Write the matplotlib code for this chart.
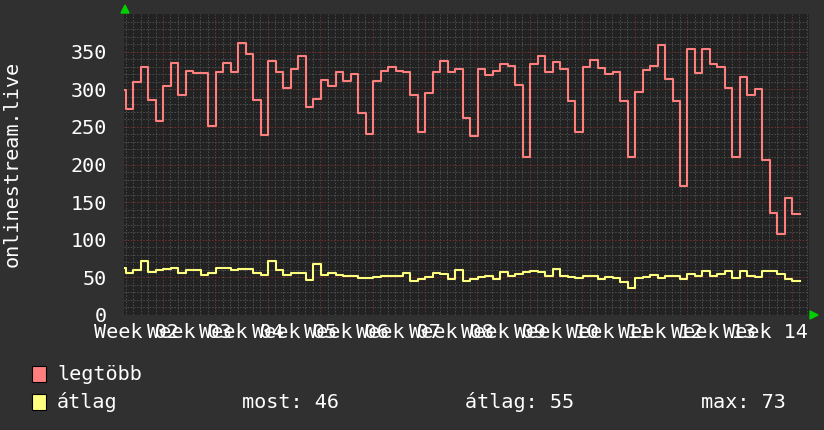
import matplotlib as mpl
mpl.use('Agg')
import matplotlib.pyplot as plt
from matplotlib.patches import Rectangle, Polygon
import numpy as np

# daily values, first one is the partial day at the left edge
legtobb = [299, 274, 309, 330, 286, 258, 304, 335, 293, 324, 321, 321, 251, 323, 335, 323, 362, 347, 286, 239, 337, 323,
           302, 327, 344, 277, 287, 312, 304, 323, 311, 320, 269, 241, 311, 324, 330, 324, 323, 292, 243, 295, 323, 338,
           323, 327, 262, 238, 327, 319, 324, 333, 331, 305, 210, 333, 344, 323,
           336, 327, 284, 243, 330, 339, 328, 320, 323, 284, 210, 297, 325, 331, 359, 313, 284, 171, 353, 321, 353, 334,
           330, 302, 210, 316, 293, 300, 206, 135, 108, 156, 134]
atlag = [62.5, 56, 59.4, 72, 57.2, 60.3, 61.2, 62.5, 56, 59.4, 59.4, 53.2, 56, 62, 62, 60.3, 60.7, 60.7, 56, 53.2, 72, 60.3,
         53.6, 56.3, 56, 47, 67.4, 53.6, 56, 53.2, 52.3, 52.3, 49.6, 49.6, 50.6, 51.4, 51.4, 51.4, 56.3, 44.8, 47.9, 50.6,
         56, 55, 47.9, 59.4, 45.2, 47.9, 50, 51.4, 48.3, 56.8, 51.4, 55, 57.6, 58.5, 57.2, 52.3,
         61.2, 51.5, 50.6, 49.7, 51.5, 51.5, 48.4, 50.6, 49.7, 43.9, 35.9, 49.7, 50.6, 53.2, 49.7, 51.5, 51.5, 48.4,
         55, 52.3, 58.6, 52.3, 55, 58.6, 49.7, 58.6, 51.5, 50.6, 58.6, 58.6, 54.1, 47.9, 45.3]
week_labels = ['Week %02d' % w for w in range(2, 15)]
legend_names = ['legtöbb', 'átlag']
stats = ['most: 46', 'átlag: 55', 'max: 73']

W, H = 824, 430
BG = '#303030'
PLOT_BG = '#222222'
FONT = 'DejaVu Sans Mono'
FS = 14.5

def fx(px):
    return px / W

def fy(py):
    return 1 - py / H

fig = plt.figure(figsize=(W / 100, H / 100), dpi=100, facecolor=BG)
ax = fig.add_axes([fx(124), fy(315), fx(809) - fx(124), fy(14) - fy(315)])
ax.set_facecolor(PLOT_BG)

t0 = -0.733
t = t0 + np.arange(len(legtobb) + 1)
ax.step(t, legtobb + legtobb[-1:], where='post', color='#ff7f7f', lw=1.5, zorder=3)
ax.step(t, atlag + atlag[-1:], where='post', color='#ffff7f', lw=1.5, zorder=3)

ax.set_xlim(0, 91.5)
ax.set_ylim(0, 400)

first_week = 5.21
ax.set_xticks([first_week + 7 * k for k in range(13)])
ax.set_xticks([first_week % 1 + k for k in range(92)], minor=True)
ax.set_yticks(range(0, 400, 50))
ax.set_yticks(range(0, 400, 10), minor=True)
ax.grid(True, which='minor', color='#4c4c4c', lw=0.75, ls=(0, (1.5, 1.5)), zorder=1)
ax.grid(True, which='major', color='#6e2f2f', lw=0.75, ls=(0, (1.5, 1.5)), zorder=2)
ax.tick_params(which='both', length=0, colors='white')
ax.set_xticklabels([])
ax.tick_params(axis='y', labelsize=FS, pad=12)
for lab in ax.get_yticklabels():
    lab.set_fontfamily(FONT)
for s in ax.spines.values():
    s.set_visible(False)

# week labels sit half a week before each week line
for k, lab in enumerate(week_labels):
    ax.text(first_week - 3.5 + 7 * k, -10, lab, ha='center', va='top', color='white',
            fontsize=FS, family=FONT, clip_on=False)

fig.text(fx(12), fy(164), 'onlinestream.live', rotation=90, ha='center', va='center',
         color='white', fontsize=FS, family=FONT)

# axis arrows
fig.patches.append(Polygon([(fx(121), fy(13)), (fx(129), fy(13)), (fx(125), fy(5))], closed=True,
                           color='#00d000', transform=fig.transFigure))
fig.patches.append(Polygon([(fx(810), fy(311)), (fx(810), fy(319)), (fx(818), fy(315))], closed=True,
                           color='#00d000', transform=fig.transFigure))

# legend
colors = ['#ff7f7f', '#ffff7f']
rows = [374, 402]
for name, c, ry in zip(legend_names, colors, rows):
    fig.patches.append(Rectangle((fx(32), fy(ry + 8)), fx(14), fy(ry - 8) - fy(ry + 8),
                                 facecolor=c, edgecolor='black', lw=0.8, transform=fig.transFigure))
    fig.text(fx(57), fy(ry), name, ha='left', va='center', color='white', fontsize=FS, family=FONT)
for s, sx in zip(stats, [242, 465, 701]):
    fig.text(fx(sx), fy(rows[1]), s, ha='left', va='center', color='white', fontsize=FS, family=FONT)

fig.savefig('out.png', dpi=100, facecolor=BG)
